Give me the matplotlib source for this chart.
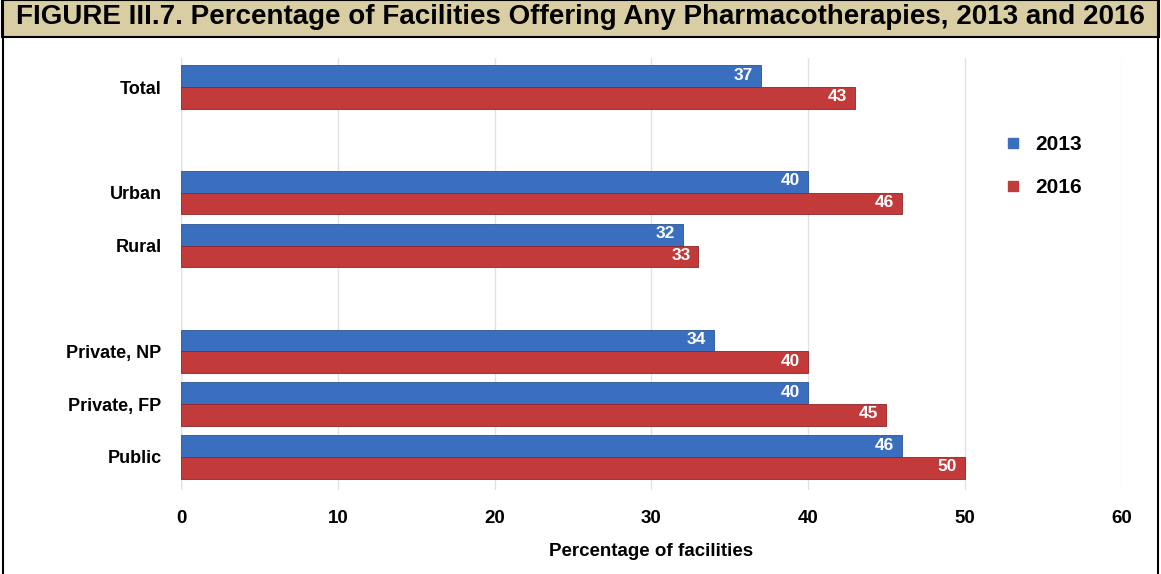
import matplotlib.pyplot as plt
from matplotlib.patches import Rectangle
from matplotlib.lines import Line2D
import numpy as np

# Données
categories = ["Public", "Private, FP", "Private, NP", "Rural", "Urban", "Total"]
positions = [0, 1, 2, 4, 5, 7]
values_2013 = [46, 40, 34, 32, 40, 37]
values_2016 = [50, 45, 40, 33, 46, 43]
series_names = ["2013", "2016"]
xticks = [0, 10, 20, 30, 40, 50, 60]

plt.rcParams['font.family'] = ['Liberation Sans', 'DejaVu Sans']

blue = "#3a6fbf"
red = "#c23a3a"
h = 0.41

fig = plt.figure(figsize=(11.61, 5.74), dpi=100)
ax = fig.add_axes([0.156, 0.146, 0.81, 0.753])

pos = np.array(positions, dtype=float)
b1 = ax.barh(pos + h / 2, values_2013, height=h, color=blue, edgecolor="#2a5596", linewidth=0.6, zorder=3)
b2 = ax.barh(pos - h / 2, values_2016, height=h, color=red, edgecolor="#8e2526", linewidth=0.6, zorder=3)

for bars, vals in [(b1, values_2013), (b2, values_2016)]:
    for bar, v in zip(bars, vals):
        ax.text(v - 0.5, bar.get_y() + bar.get_height() / 2 + 0.02, str(v),
                ha="right", va="center", color="white", fontsize=12.5,
                fontweight="bold", zorder=4)

ax.set_xlim(0, 60)
ax.set_ylim(-0.63, 7.55)
ax.set_xticks(xticks)
ax.set_xticklabels([str(t) for t in xticks], fontsize=13.5, fontweight="bold")
ax.set_yticks(positions)
ax.set_yticklabels(categories, fontsize=13, fontweight="bold")
ax.tick_params(axis="both", length=0)
ax.tick_params(axis="x", pad=14)
ax.tick_params(axis="y", pad=14)
ax.grid(axis="x", color="#e2e2e2", linewidth=1, zorder=0)
for s in ax.spines.values():
    s.set_visible(False)
ax.axvline(0, color="#d8d8d8", linewidth=1, zorder=1)
ax.set_xlabel("Percentage of facilities", fontsize=13.5, fontweight="bold", labelpad=12)

handles = [Line2D([], [], marker="s", linestyle="none", markersize=7, color=c) for c in (blue, red)]
leg = fig.legend(handles, series_names, loc="upper left", bbox_to_anchor=(0.835, 0.804),
                 frameon=True, prop={"weight": "bold", "size": 15},
                 handletextpad=0.05, labelspacing=1.15, borderpad=0.6)
leg.get_frame().set_facecolor("white")
leg.get_frame().set_edgecolor("white")

# Bandeau du titre
title_h = 37 / 574
fig.patches.append(Rectangle((0.002, 1 - title_h), 0.996, title_h, transform=fig.transFigure,
                             facecolor="#d8cda3", edgecolor="black", linewidth=1.5, zorder=0))
fig.text(0.5, 1 - title_h / 2 + 0.002,
         "FIGURE III.7. Percentage of Facilities Offering Any Pharmacotherapies, 2013 and 2016",
         ha="center", va="center", fontsize=20, fontweight="bold")
# Cadre
fig.lines.append(Line2D([0.003, 0.003], [0, 1], transform=fig.transFigure, color="black", linewidth=1.5))
fig.lines.append(Line2D([0.997, 0.997], [0, 1], transform=fig.transFigure, color="black", linewidth=1.5))

fig.savefig("out.png", dpi=100)
